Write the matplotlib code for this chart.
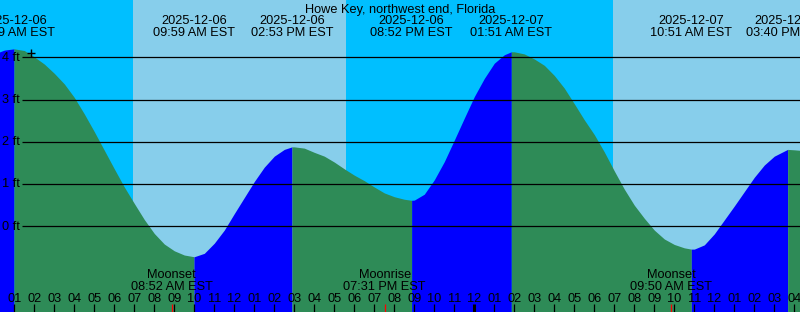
import matplotlib
matplotlib.use("Agg")
import matplotlib.pyplot as plt
import matplotlib.transforms as mtransforms

plt.rcParams["font.family"] = ["Liberation Sans", "DejaVu Sans"]

station = "Howe Key, northwest end, Florida"

# hours since 2025-12-06 00:00 EST, every half hour, heights in ft
curve_hours = [i / 2 for i in range(0, 82)]
curve_ft = [
    4.08, 4.17, 4.20, 4.16, 4.01, 3.84, 3.62, 3.37, 3.05, 2.66,   # 0 - 4.5
    2.24, 1.80, 1.36, 0.93, 0.54, 0.16, -0.17, -0.42, -0.58, -0.68,  # 5 - 9.5
    -0.72, -0.64, -0.40, -0.09, 0.30, 0.68, 1.06, 1.40, 1.66, 1.82,  # 10 - 14.5
    1.88, 1.85, 1.75, 1.66, 1.52, 1.36, 1.21, 1.08, 0.93, 0.79,     # 15 - 19.5
    0.70, 0.64, 0.62, 0.76, 1.10, 1.53, 2.04, 2.56, 3.07, 3.50,     # 20 - 24.5
    3.86, 4.06, 4.13, 4.08, 3.96, 3.81, 3.57, 3.27, 2.90, 2.52,     # 25 - 29.5
    2.17, 1.76, 1.31, 0.88, 0.50, 0.19, -0.09, -0.30, -0.43, -0.51,  # 30 - 34.5
    -0.54, -0.44, -0.18, 0.15, 0.48, 0.82, 1.16, 1.45, 1.66, 1.78,  # 35 - 39.5
    1.81, 1.79,                                                     # 40 - 40.5
]

# high / low tides
tide_hours = [0.983, 9.983, 14.883, 20.867, 25.85, 34.85, 39.667]
tide_ft = [4.20, -0.72, 1.88, 0.615, 4.13, -0.54, 1.82]
tide_dates = ["2025-12-06", "2025-12-06", "2025-12-06", "2025-12-06",
              "2025-12-07", "2025-12-07", "2025-12-07"]
tide_times = ["12:59 AM EST", "09:59 AM EST", "02:53 PM EST", "08:52 PM EST",
              "01:51 AM EST", "10:51 AM EST", "03:40 PM EST"]

# sunrise, sunset, sunrise
sun_hours = [6.935, 17.585, 30.935]

moon_hours = [8.867, 19.517, 33.833]
moon_names = ["Moonset", "Moonrise", "Moonset"]
moon_times = ["08:52 AM EST", "07:31 PM EST", "09:50 AM EST"]

hour_ticks = list(range(1, 41))
hour_labels = ["%02d" % ((h - 1) % 12 + 1) for h in hour_ticks]
midnight_hours = [24]

now_hour, now_ft = 1.82, 4.10
grid_ft = [0, 1, 2, 3, 4]

# -------------------------
# geometry (pixels -> data)
# -------------------------
W, H = 800, 312
x0 = 0.285          # hour at left edge
px_per_hour = 20.0
y_zero_px = 226.3   # pixel row of 0 ft
px_per_ft = 42.25

xmin, xmax = x0, x0 + W / px_per_hour
ymin = (y_zero_px - H) / px_per_ft
ymax = y_zero_px / px_per_ft

fig = plt.figure(figsize=(W / 100, H / 100), dpi=100)
ax = fig.add_axes([0, 0, 1, 1])
ax.set_xlim(xmin, xmax)
ax.set_ylim(ymin, ymax)
ax.axis("off")

night = "#00BFFF"
day = "#87CEEB"
ebb = "#2E8B57"
flood = "#0000FF"
fs = 9.2

def fy(ypx):
    return 1 - ypx / H

trans = mtransforms.blended_transform_factory(ax.transData, ax.transAxes)

# day / night background
edges = [xmin] + sun_hours + [xmax]
for i in range(len(edges) - 1):
    ax.axvspan(edges[i], edges[i + 1], color=night if i % 2 == 0 else day,
               lw=0, zorder=0)

# tide curve, filled blue when rising and green when falling
pts = sorted(zip(curve_hours + tide_hours, curve_ft + tide_ft))
breaks = [curve_hours[0]] + tide_hours + [curve_hours[-1]]
for a, b in zip(breaks[:-1], breaks[1:]):
    seg = [p for p in pts if a <= p[0] <= b]
    t = [p[0] for p in seg]
    v = [p[1] for p in seg]
    color = flood if v[-1] > v[0] else ebb
    ax.fill_between(t, v, ymin - 1, color=color, lw=0, zorder=1)

# grid lines and labels
for g in grid_ft:
    ax.plot([x0 + 22 / px_per_hour, xmax], [g, g], color="black", lw=0.9,
            zorder=2, solid_capstyle="butt")
    ax.text(x0 + 2.5 / px_per_hour, g - 3.4 / px_per_ft, "%d ft" % g,
            fontsize=fs, ha="left", va="baseline", zorder=3)

ax.plot(now_hour, now_ft, marker="+", color="black", markersize=6,
        mew=1, zorder=3)

# title and tide labels
ax.text(0.5, fy(12.7), station, transform=ax.transAxes, fontsize=fs,
        ha="center", va="baseline")
for t, d, s in zip(tide_hours, tide_dates, tide_times):
    ax.text(t, fy(24), d, transform=trans, fontsize=fs, ha="center",
            va="baseline")
    ax.text(t, fy(36), s, transform=trans, fontsize=fs, ha="center",
            va="baseline")

# moon events
for t, n, s in zip(moon_hours, moon_names, moon_times):
    ax.text(t, fy(278.3), n, transform=trans, fontsize=fs, ha="center",
            va="baseline")
    ax.text(t, fy(290), s, transform=trans, fontsize=fs, ha="center",
            va="baseline")

# hour ticks
for h, lab in zip(hour_ticks, hour_labels):
    ax.text(h, fy(301.7), lab, transform=trans, fontsize=fs, ha="center",
            va="baseline")
    lw = 2.2 if h in midnight_hours else 0.9
    ax.plot([h, h], [fy(304), 0], transform=trans, color="black", lw=lw,
            solid_capstyle="butt")
for t in moon_hours:
    ax.plot([t, t], [fy(304), 0], transform=trans, color="red", lw=0.9,
            solid_capstyle="butt")

fig.savefig("out.png", dpi=100)
